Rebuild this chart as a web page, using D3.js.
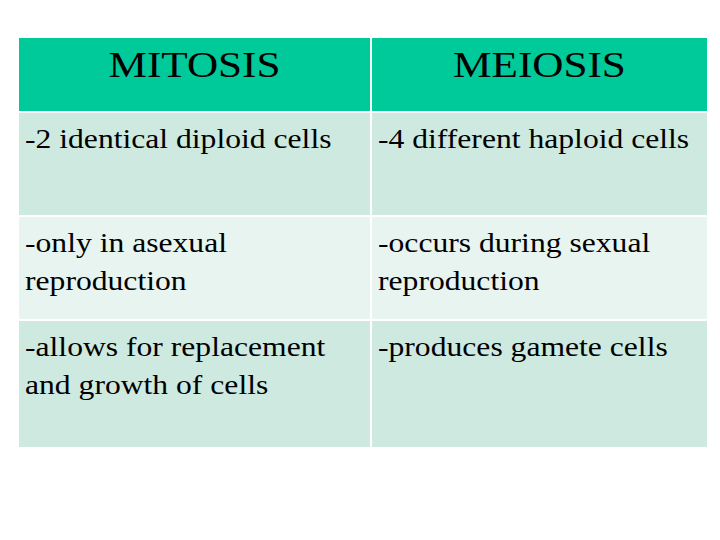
<!DOCTYPE html>
<html><head><meta charset="utf-8">
<script src="https://cdn.jsdelivr.net/npm/d3@7"></script>
<style>body{margin:0;background:#fff}</style>
</head><body>
<svg id="chart" width="720" height="540"></svg>
<script>
// table content
var headers = ["MITOSIS", "MEIOSIS"];
var mitosis = [["-2 identical diploid cells"], ["-only in asexual", "reproduction"], ["-allows for replacement", "and growth of cells"]];
var meiosis = [["-4 different haploid cells"], ["-occurs during sexual", "reproduction"], ["-produces gamete cells"]];

var svg = d3.select("#chart");
var colEdges = [18, 371, 708];
var edges = [37, 112, 216, 320, 448];
var rowFill = ["#00c99a", "#cde9e0", "#e7f4ef", "#cde9e0"];

var rows = [headers.map(function (h) { return [h]; })];
mitosis.forEach(function (m, i) { rows.push([m, meiosis[i]]); });

rows.forEach(function (r, i) {
  var g = svg.append("g");
  r.forEach(function (lines, j) {
    var x0 = colEdges[j], w = colEdges[j + 1] - x0;
    g.append("rect").attr("x", x0).attr("y", edges[i]).attr("width", w)
      .attr("height", edges[i + 1] - edges[i]).attr("fill", rowFill[i])
      .attr("stroke", "#fff").attr("stroke-width", 2);
    var t = g.append("text").attr("font-family", "Liberation Serif, Times New Roman, serif")
      .attr("fill", "#000");
    if (i === 0) {
      var cx = x0 + w / 2;
      t.attr("transform", "translate(" + cx + "," + (edges[i] + 40) + ") scale(1.2,1)")
        .attr("text-anchor", "middle").attr("font-size", 36).text(lines[0]);
    } else {
      t.attr("font-size", 28)
        .attr("transform", "translate(" + (x0 + 7) + "," + (edges[i] + 36) + ") scale(1.13,1)");
      lines.forEach(function (l, k) {
        t.append("tspan").attr("x", 0).attr("y", k * 38).text(l);
      });
    }
  });
});
</script>
</body></html>
